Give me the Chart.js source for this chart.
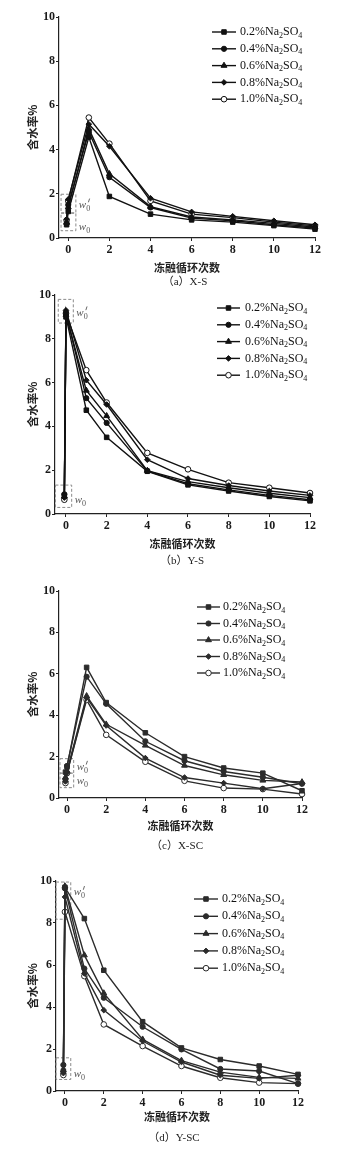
<!DOCTYPE html>
<html>
<head>
<meta charset="utf-8">
<script src="https://cdn.jsdelivr.net/npm/chart.js@4.4.1/dist/chart.umd.min.js"></script>
<style>
  body { margin: 0; background: #fff; }
  #page { position: relative; width: 349px; height: 1158px; overflow: hidden; background: #fff; }
  canvas { position: absolute; left: 0; }
  .cap { position: absolute; transform: translateX(-50%); font: 11px "Liberation Serif", "Noto Sans CJK SC", serif; color: #222; white-space: nowrap; line-height: 14px; }
</style>
</head>
<body>
<div id="page"></div>
<script>
// freeze-thaw cycles: w0 sits just left of 0, w0' at 0
const cycles = [-0.08, 0, 1, 2, 4, 6, 8, 10, 12];
const xTicks = [0, 2, 4, 6, 8, 10, 12];
const yTicks = [0, 2, 4, 6, 8, 10];
const saltLabels = ['0.2%Na₂SO₄', '0.4%Na₂SO₄', '0.6%Na₂SO₄', '0.8%Na₂SO₄', '1.0%Na₂SO₄'];
const saltConc = ['0.2%', '0.4%', '0.6%', '0.8%', '1.0%'];

// (a) X-S
const xs02 = [0.6, 1.2, 4.57, 1.88, 1.08, 0.82, 0.72, 0.56, 0.4];
const xs04 = [0.65, 1.5, 4.8, 2.75, 1.38, 0.9, 0.78, 0.6, 0.45];
const xs06 = [0.7, 1.4, 4.95, 2.9, 1.42, 0.95, 0.82, 0.66, 0.5];
const xs08 = [0.85, 1.75, 5.15, 4.15, 1.8, 1.18, 0.98, 0.78, 0.6];
const xs10 = [0.8, 1.68, 5.45, 4.27, 1.68, 1.08, 0.92, 0.72, 0.55];

// (b) Y-S
const ys02 = [0.85, 9.0, 4.74, 3.5, 1.95, 1.33, 1.05, 0.8, 0.6];
const ys04 = [0.9, 9.2, 5.29, 4.16, 1.97, 1.38, 1.1, 0.85, 0.65];
const ys06 = [0.8, 9.1, 5.64, 4.48, 1.98, 1.48, 1.2, 0.95, 0.75];
const ys08 = [0.75, 9.3, 6.11, 5.0, 2.48, 1.62, 1.3, 1.05, 0.85];
const ys10 = [0.65, 9.15, 6.57, 5.09, 2.79, 2.04, 1.43, 1.2, 0.96];

// (c) X-SC
const xsc02 = [1.25, 1.5, 6.31, 4.61, 3.15, 2.0, 1.45, 1.2, 0.35];
const xsc04 = [0.9, 1.55, 5.86, 4.55, 2.74, 1.8, 1.28, 1.0, 0.69];
const xsc06 = [1.0, 1.3, 4.93, 3.56, 2.54, 1.57, 1.12, 0.85, 0.77];
const xsc08 = [0.8, 1.22, 4.85, 3.5, 1.93, 0.99, 0.72, 0.45, 0.7];
const xsc10 = [0.72, 1.2, 4.74, 3.05, 1.75, 0.83, 0.48, 0.43, 0.19];

// (d) Y-SC
const ysc02 = [0.95, 9.7, 8.21, 5.75, 3.3, 2.05, 1.5, 1.19, 0.79];
const ysc04 = [1.24, 9.65, 5.83, 4.44, 3.06, 1.98, 1.05, 0.95, 0.35];
const ysc06 = [1.0, 9.75, 6.47, 4.66, 2.46, 1.45, 0.9, 0.65, 0.6];
const ysc08 = [0.85, 9.24, 5.6, 3.85, 2.38, 1.38, 0.75, 0.6, 0.75];
const ysc10 = [0.76, 8.53, 5.47, 3.17, 2.14, 1.19, 0.63, 0.4, 0.35];

const markerStyles = ['rect', 'circle', 'triangle', 'rectRot', 'circle'];
const markerRadii = [3.2, 2.6, 3.4, 2.8, 2.8];
const serif = '"Liberation Serif", "Times New Roman", serif';
const cjk = '"Noto Sans CJK SC", sans-serif';

const panels = [
  { caption: '（a）X-S', series: [xs02, xs04, xs06, xs08, xs10], color: '#111',
    canvasTop: 0, plotTop: 17, plotBottom: 238, plotLeft: 59, plotRight: 315, xMin: -0.45,
    xTitleY: 267, captionX: 185, captionY: 281,
    legend: { x0: 212, x1: 236, tx: 240, y0: 32, dy: 16.8 },
    boxes: [
      { x0: -0.35, x1: 0.37, y0: 1.14, y1: 1.98, ly: 1.49, prime: true },
      { x0: -0.35, x1: 0.37, y0: 0.33, y1: 1.12, ly: 0.5, prime: false }
    ] },
  { caption: '（b）Y-S', series: [ys02, ys04, ys06, ys08, ys10], color: '#111',
    canvasTop: 285, plotTop: 295, plotBottom: 514, plotLeft: 55, plotRight: 310, xMin: -0.54,
    xTitleY: 543, captionX: 182, captionY: 560,
    legend: { x0: 217, x1: 240, tx: 245, y0: 23, dy: 16.8 },
    boxes: [
      { x0: -0.38, x1: 0.36, y0: 8.72, y1: 9.8, ly: 9.18, prime: true },
      { x0: -0.52, x1: 0.28, y0: 0.3, y1: 1.32, ly: 0.64, prime: false }
    ] },
  { caption: '（c）X-SC', series: [xsc02, xsc04, xsc06, xsc08, xsc10], color: '#2b2b2b',
    canvasTop: 575, plotTop: 591, plotBottom: 798, plotLeft: 59, plotRight: 302, xMin: -0.41,
    xTitleY: 825, captionX: 177, captionY: 845,
    legend: { x0: 197, x1: 220, tx: 223, y0: 32, dy: 16.5 },
    boxes: [
      { x0: -0.36, x1: 0.34, y0: 1.2, y1: 1.9, ly: 1.48, prime: true },
      { x0: -0.36, x1: 0.34, y0: 0.5, y1: 1.2, ly: 0.8, prime: false }
    ] },
  { caption: '（d）Y-SC', series: [ysc02, ysc04, ysc06, ysc08, ysc10], color: '#2b2b2b',
    canvasTop: 865, plotTop: 881, plotBottom: 1091, plotLeft: 56, plotRight: 298, xMin: -0.46,
    xTitleY: 1116, captionX: 174, captionY: 1137,
    legend: { x0: 194, x1: 218, tx: 222, y0: 34, dy: 17.3 },
    boxes: [
      { x0: -0.46, x1: 0.3, y0: 8.18, y1: 9.95, ly: 9.45, prime: true },
      { x0: -0.46, x1: 0.3, y0: 0.55, y1: 1.58, ly: 0.8, prime: false }
    ] }
];

function drawW(ctx, x, y, prime) {
  ctx.fillStyle = '#555';
  ctx.textBaseline = 'middle';
  ctx.textAlign = 'left';
  ctx.font = 'italic 11px ' + serif;
  ctx.fillText('w', x, y);
  const w = ctx.measureText('w').width;
  ctx.font = '8px ' + serif;
  ctx.fillText('0', x + w, y + 3.5);
  if (prime) {
    // prime stroke above the subscript
    ctx.strokeStyle = '#555';
    ctx.lineWidth = 0.9;
    ctx.beginPath();
    ctx.moveTo(x + w + 3.4, y - 6.5);
    ctx.lineTo(x + w + 2.2, y - 2.8);
    ctx.stroke();
  }
}

function drawSaltLabel(ctx, x, y, conc) {
  const parts = [[conc + 'Na', false], ['2', true], ['SO', false], ['4', true]];
  ctx.textBaseline = 'middle';
  ctx.textAlign = 'left';
  parts.forEach(([t, sub]) => {
    ctx.font = (sub ? '8px ' : '12px ') + serif;
    ctx.fillText(t, x, sub ? y + 3.5 : y);
    x += ctx.measureText(t).width;
  });
}

function makeOverlay(p) {
  return {
    id: 'panelOverlay',
    beforeDatasetsDraw(chart) {
      const { ctx, scales: { x, y } } = chart;
      ctx.save();
      ctx.setLineDash([3, 2]);
      ctx.strokeStyle = '#8a8a8a';
      ctx.lineWidth = 1;
      p.boxes.forEach(b => {
        const l = x.getPixelForValue(b.x0), r = x.getPixelForValue(b.x1);
        const t = y.getPixelForValue(b.y1), btm = y.getPixelForValue(b.y0);
        ctx.strokeRect(l, t, r - l, btm - t);
      });
      ctx.setLineDash([]);
      p.boxes.forEach(b => {
        drawW(ctx, x.getPixelForValue(b.x1) + 3, y.getPixelForValue(b.ly), b.prime);
      });
      ctx.restore();
    },
    afterDraw(chart) {
      const ctx = chart.ctx;
      const lg = p.legend;
      ctx.save();
      chart.data.datasets.forEach((ds, i) => {
        const yy = lg.y0 + i * lg.dy;
        ctx.strokeStyle = ds.borderColor;
        ctx.lineWidth = 1.4;
        ctx.beginPath();
        ctx.moveTo(lg.x0, yy);
        ctx.lineTo(lg.x1, yy);
        ctx.stroke();
        ctx.fillStyle = ds.pointBackgroundColor;
        ctx.lineWidth = 1;
        Chart.helpers.drawPoint(ctx, { pointStyle: ds.pointStyle, radius: ds.pointRadius, rotation: 0, borderWidth: 1 },
          (lg.x0 + lg.x1) / 2, yy);
        ctx.fillStyle = '#111';
        drawSaltLabel(ctx, lg.tx, yy, saltConc[i]);
      });
      ctx.restore();
    }
  };
}

const page = document.getElementById('page');

panels.forEach(p => {
  const top = p.canvasTop;
  const h = Math.round(p.xTitleY - top + 9);
  const cv = document.createElement('canvas');
  cv.width = 349;
  cv.height = h;
  cv.style.top = top + 'px';
  page.appendChild(cv);

  const cap = document.createElement('div');
  cap.className = 'cap';
  cap.textContent = p.caption;
  cap.style.left = p.captionX + 'px';
  cap.style.top = (p.captionY - 7) + 'px';
  page.appendChild(cap);

  const datasets = p.series.map((vals, i) => ({
    label: saltLabels[i],
    data: cycles.map((c, k) => ({ x: c, y: vals[k] })),
    borderColor: p.color,
    borderWidth: 1.4,
    pointStyle: markerStyles[i],
    pointRadius: markerRadii[i],
    pointBackgroundColor: i === 4 ? '#fff' : p.color,
    pointBorderColor: p.color,
    pointBorderWidth: 1,
    tension: 0,
    clip: false
  }));

  const axisColor = '#222';
  const tickFont = { family: serif, size: 12, weight: 'bold' };

  new Chart(cv, {
    type: 'line',
    data: { datasets },
    options: {
      responsive: false,
      animation: false,
      devicePixelRatio: 1,
      layout: { padding: { top: p.plotTop - top, right: 349 - p.plotRight, bottom: 0, left: 0 } },
      plugins: { legend: { display: false }, tooltip: { enabled: false } },
      scales: {
        x: {
          type: 'linear',
          min: p.xMin,
          max: 12,
          afterBuildTicks: ax => { ax.ticks = xTicks.map(v => ({ value: v })); },
          afterFit: ax => { ax.height = h - (p.plotBottom - top); },
          border: { color: axisColor, width: 1.2 },
          grid: { drawOnChartArea: false, tickLength: 3, color: axisColor },
          ticks: { padding: 2, font: tickFont, color: '#1a1a1a', autoSkip: false, maxRotation: 0 },
          title: { display: true, text: '冻融循环次数', color: '#222',
            font: { family: cjk, size: 11, weight: 'bold' }, padding: { top: 0, bottom: 2 } }
        },
        y: {
          min: 0,
          max: 10,
          afterBuildTicks: ax => { ax.ticks = yTicks.map(v => ({ value: v })); },
          afterFit: ax => { ax.width = p.plotLeft; },
          border: { color: axisColor, width: 1.2 },
          grid: { drawOnChartArea: false, tickLength: 3, color: axisColor },
          ticks: { padding: 1, font: tickFont, color: '#1a1a1a' },
          title: { display: true, text: '含水率%', color: '#222',
            font: { family: cjk, size: 11.5, weight: 'bold' }, padding: { top: 26, bottom: 0 } }
        }
      }
    },
    plugins: [makeOverlay(p)]
  });
});
</script>
</body>
</html>
